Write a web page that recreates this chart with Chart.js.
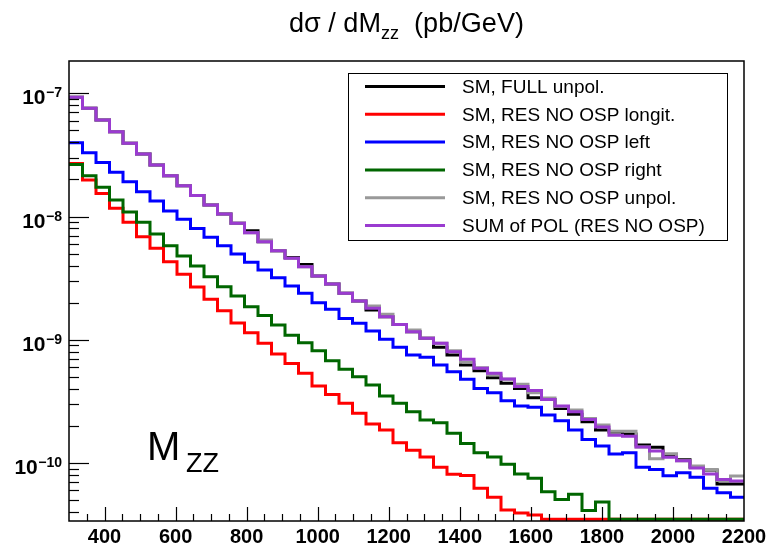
<!DOCTYPE html>
<html>
<head>
<meta charset="utf-8">
<script src="https://cdn.jsdelivr.net/npm/chart.js@4.4.1/dist/chart.umd.min.js"></script>
<style>
  html, body { margin: 0; padding: 0; background: #fff; }
  canvas { display: block; }
</style>
</head>
<body>
<canvas id="mzz" width="770" height="545"></canvas>
<script>
// Bin edges of the M_ZZ histogram (GeV)
const binEdges = [300, 338, 376, 414, 452, 490, 528, 566, 604, 642, 680, 718, 756, 794, 832, 870,
  908, 946, 984, 1022, 1060, 1098, 1136, 1174, 1212, 1250, 1288, 1326, 1364, 1402, 1440, 1478,
  1516, 1554, 1592, 1630, 1668, 1706, 1744, 1782, 1820, 1858, 1896, 1934, 1972, 2010, 2048,
  2086, 2124, 2162, 2200];

// dsigma/dM_zz per bin (pb/GeV), 0 = empty bin
const fullUnpol = [9.28e-8, 7.55e-8, 6.07e-8, 4.88e-8, 3.93e-8, 3.22e-8, 2.62e-8, 2.14e-8, 1.78e-8, 1.48e-8,
  1.24e-8, 1.05e-8, 8.81e-9, 7.67e-9, 6.24e-9, 5.28e-9, 4.66e-9, 4.09e-9, 3.29e-9, 2.83e-9,
  2.38e-9, 2.06e-9, 1.74e-9, 1.54e-9, 1.33e-9, 1.16e-9, 1.03e-9, 8.68e-10, 7.51e-10, 6.23e-10,
  5.60e-10, 4.91e-10, 4.43e-10, 4.03e-10, 3.38e-10, 3.28e-10, 2.77e-10, 2.49e-10, 2.16e-10, 1.85e-10,
  1.78e-10, 1.72e-10, 1.40e-10, 1.34e-10, 1.13e-10, 1.06e-10, 9.26e-11, 8.76e-11, 6.74e-11, 6.74e-11];
const resLongit = [2.70e-8, 1.98e-8, 1.54e-8, 1.17e-8, 8.97e-9, 6.86e-9, 5.52e-9, 4.30e-9, 3.40e-9, 2.68e-9,
  2.13e-9, 1.72e-9, 1.37e-9, 1.14e-9, 9.35e-10, 7.66e-10, 6.43e-10, 5.34e-10, 4.21e-10, 3.59e-10,
  3.05e-10, 2.53e-10, 2.07e-10, 1.85e-10, 1.46e-10, 1.27e-10, 1.12e-10, 9.21e-11, 8.08e-11, 7.90e-11,
  6.22e-11, 5.26e-11, 4.15e-11, 3.92e-11, 3.78e-11, 0, 0, 0, 0, 0,
  0, 0, 0, 0, 0, 0, 0, 0, 0, 0];
const resLeft = [3.97e-8, 3.30e-8, 2.75e-8, 2.29e-8, 1.92e-8, 1.59e-8, 1.34e-8, 1.11e-8, 9.49e-9, 7.99e-9,
  6.78e-9, 5.79e-9, 4.96e-9, 4.25e-9, 3.68e-9, 3.19e-9, 2.73e-9, 2.38e-9, 2.00e-9, 1.77e-9,
  1.49e-9, 1.36e-9, 1.18e-9, 1.01e-9, 8.68e-10, 7.51e-10, 7.20e-10, 6.23e-10, 5.50e-10, 4.77e-10,
  4.03e-10, 3.71e-10, 3.20e-10, 2.90e-10, 2.83e-10, 2.45e-10, 2.20e-10, 1.85e-10, 1.55e-10, 1.37e-10,
  1.18e-10, 1.21e-10, 9.21e-11, 8.87e-11, 7.87e-11, 8.33e-11, 7.64e-11, 6.22e-11, 5.73e-11, 5.26e-11];
const resRight = [2.65e-8, 2.14e-8, 1.73e-8, 1.36e-8, 1.09e-8, 8.97e-9, 7.21e-9, 5.79e-9, 4.78e-9, 3.96e-9,
  3.25e-9, 2.69e-9, 2.26e-9, 1.85e-9, 1.57e-9, 1.32e-9, 1.09e-9, 9.45e-10, 8.14e-10, 6.75e-10,
  5.75e-10, 5.01e-10, 4.29e-10, 3.49e-10, 3.05e-10, 2.60e-10, 2.23e-10, 2.12e-10, 1.74e-10, 1.44e-10,
  1.21e-10, 1.12e-10, 9.74e-11, 8.13e-11, 7.50e-11, 5.84e-11, 5.06e-11, 5.56e-11, 4.11e-11, 4.82e-11,
  0, 0, 0, 0, 0, 0, 0, 0, 0, 0];
const resUnpol = [9.28e-8, 7.55e-8, 6.07e-8, 4.88e-8, 3.93e-8, 3.22e-8, 2.62e-8, 2.14e-8, 1.78e-8, 1.48e-8,
  1.24e-8, 1.05e-8, 8.81e-9, 7.39e-9, 6.44e-9, 5.28e-9, 4.58e-9, 3.91e-9, 3.29e-9, 2.83e-9,
  2.38e-9, 2.06e-9, 1.88e-9, 1.61e-9, 1.33e-9, 1.20e-9, 1.03e-9, 9.35e-10, 8.14e-10, 6.56e-10,
  5.93e-10, 5.17e-10, 4.77e-10, 4.35e-10, 3.71e-10, 3.36e-10, 2.87e-10, 2.69e-10, 2.30e-10, 2.03e-10,
  1.81e-10, 1.81e-10, 1.35e-10, 1.08e-10, 1.19e-10, 1.04e-10, 9.44e-11, 8.87e-11, 7.20e-11, 7.83e-11];
const sumOfPol = [9.28e-8, 7.55e-8, 6.07e-8, 4.88e-8, 3.93e-8, 3.22e-8, 2.62e-8, 2.14e-8, 1.78e-8, 1.48e-8,
  1.24e-8, 1.05e-8, 8.81e-9, 7.39e-9, 6.24e-9, 5.28e-9, 4.58e-9, 3.91e-9, 3.29e-9, 2.83e-9,
  2.38e-9, 2.06e-9, 1.80e-9, 1.54e-9, 1.33e-9, 1.16e-9, 1.03e-9, 9.35e-10, 7.99e-10, 6.93e-10,
  5.86e-10, 5.34e-10, 4.80e-10, 4.17e-10, 3.88e-10, 3.28e-10, 2.90e-10, 2.60e-10, 2.25e-10, 1.96e-10,
  1.68e-10, 1.65e-10, 1.35e-10, 1.25e-10, 1.11e-10, 1.04e-10, 9.09e-11, 8.13e-11, 7.33e-11, 7.13e-11];

const seriesLabels = ['SM, FULL unpol.', 'SM, RES NO OSP longit.', 'SM, RES NO OSP left',
  'SM, RES NO OSP right', 'SM, RES NO OSP unpol.', 'SUM of POL (RES NO OSP)'];
const seriesValues = [fullUnpol, resLongit, resLeft, resRight, resUnpol, sumOfPol];
const seriesColors = ['#000000', '#ff0000', '#0000ff', '#006600', '#999999', '#9a3bd0'];

// axis labels
const xTickLabels = [400, 600, 800, 1000, 1200, 1400, 1600, 1800, 2000, 2200];
const yDecades = [-10, -9, -8, -7];

const X_MIN = 300, X_MAX = 2200;
const Y_MIN = 3.38e-11, Y_MAX = 1.83e-7;
const Y_FLOOR = 3.5e-11; // where ROOT draws empty bins (on the frame)

const FONT = '"Liberation Sans", Arial, Helvetica, sans-serif';

// one point per bin edge; the last bin value is repeated at the upper edge
function histPoints(vals) {
  return binEdges.map((x, i) => {
    const v = vals[Math.min(i, vals.length - 1)];
    return { x, y: v > 0 ? v : Y_FLOOR };
  });
}

function line(ctx, x1, y1, x2, y2) {
  ctx.beginPath();
  ctx.moveTo(x1, y1);
  ctx.lineTo(x2, y2);
  ctx.stroke();
}

// ROOT-like frame, inner ticks, labels and legend
const rootDecor = {
  id: 'rootDecor',
  afterDatasetsDraw(chart) {
    const { ctx, chartArea: a, scales: { x, y } } = chart;
    ctx.save();
    ctx.strokeStyle = '#000';
    ctx.fillStyle = '#000';

    // x ticks every 50, major every 200
    ctx.lineWidth = 1.2;
    for (let v = X_MIN + 50; v < X_MAX; v += 50) {
      const px = Math.round(x.getPixelForValue(v)) + 0.5;
      line(ctx, px, a.bottom, px, a.bottom - (v % 200 === 0 ? 14 : 7));
    }
    ctx.font = 'bold 20px ' + FONT;
    ctx.textAlign = 'center';
    ctx.textBaseline = 'alphabetic';
    xTickLabels.forEach(v => ctx.fillText(String(v), x.getPixelForValue(v), 543));

    // y ticks: decades and 2..9 minors
    for (let d = -11; d <= -7; d++) {
      for (let k = 1; k <= 9; k++) {
        const v = k * Math.pow(10, d);
        if (v < Y_MIN || v > Y_MAX) continue;
        const py = Math.round(y.getPixelForValue(v)) + 0.5;
        line(ctx, a.left, py, a.left + (k === 1 ? 20 : 10), py);
      }
    }
    yDecades.forEach(d => {
      const py = y.getPixelForValue(Math.pow(10, d));
      ctx.textAlign = 'right';
      ctx.font = 'bold 14px ' + FONT;
      const exp = '\u2212' + Math.abs(d);
      ctx.fillText(exp, 62, py + 4);
      const w = ctx.measureText(exp).width;
      ctx.font = 'bold 21px ' + FONT;
      ctx.fillText('10', 62 - w - 0.5, py + 11);
    });

    // frame
    ctx.lineWidth = 1.5;
    ctx.strokeRect(a.left, a.top, a.right - a.left, a.bottom - a.top);

    // title
    ctx.textAlign = 'left';
    const big = '27px ' + FONT, small = '18px ' + FONT;
    const t1 = 'd\u03c3 / dM', t2 = 'zz', t3 = '  (pb/GeV)';
    ctx.font = big;
    const w1 = ctx.measureText(t1).width, w3 = ctx.measureText(t3).width;
    ctx.font = small;
    const w2 = ctx.measureText(t2).width;
    const sx = 235 / (w1 + w2 + w3);
    ctx.save();
    ctx.translate(289, 0);
    ctx.scale(sx, 1);
    ctx.font = big;
    ctx.fillText(t1, 0, 32);
    ctx.font = small;
    ctx.fillText(t2, w1, 39);
    ctx.font = big;
    ctx.fillText(t3, w1 + w2, 32);
    ctx.restore();

    // M_ZZ label
    ctx.font = '40px ' + FONT;
    ctx.fillText('M', 147, 460);
    ctx.font = '27px ' + FONT;
    ctx.fillText('ZZ', 186, 472);

    // legend
    const lx = 348.5, ly = 73.5, lw = 379, lh = 167;
    ctx.fillStyle = '#fff';
    ctx.fillRect(lx, ly, lw, lh);
    ctx.lineWidth = 1;
    ctx.strokeStyle = '#000';
    ctx.strokeRect(lx, ly, lw, lh);
    ctx.font = '19px ' + FONT;
    ctx.textBaseline = 'middle';
    chart.data.datasets.forEach((ds, i) => {
      const ry = 86.5 + i * 27.8;
      ctx.strokeStyle = ds.borderColor;
      ctx.lineWidth = 3;
      line(ctx, 365, ry, 445, ry);
      ctx.fillStyle = '#000';
      ctx.fillText(ds.label, 462, ry + 1);
    });
    ctx.restore();
  }
};

new Chart(document.getElementById('mzz'), {
  type: 'line',
  data: {
    datasets: seriesLabels.map((label, i) => ({
      label,
      data: histPoints(seriesValues[i]),
      borderColor: seriesColors[i],
      borderWidth: 3,
      stepped: 'before',
      pointRadius: 0,
      fill: false,
      order: seriesLabels.length - i,
      clip: { left: 0, top: 0, right: 0, bottom: 3 }
    }))
  },
  options: {
    responsive: false,
    animation: false,
    layout: { padding: { left: 69, right: 26, top: 61, bottom: 24 } },
    plugins: { legend: { display: false }, tooltip: { enabled: false }, title: { display: false } },
    scales: {
      x: { type: 'linear', min: X_MIN, max: X_MAX, display: false },
      y: { type: 'logarithmic', min: Y_MIN, max: Y_MAX, display: false }
    }
  },
  plugins: [rootDecor]
});
</script>
</body>
</html>
